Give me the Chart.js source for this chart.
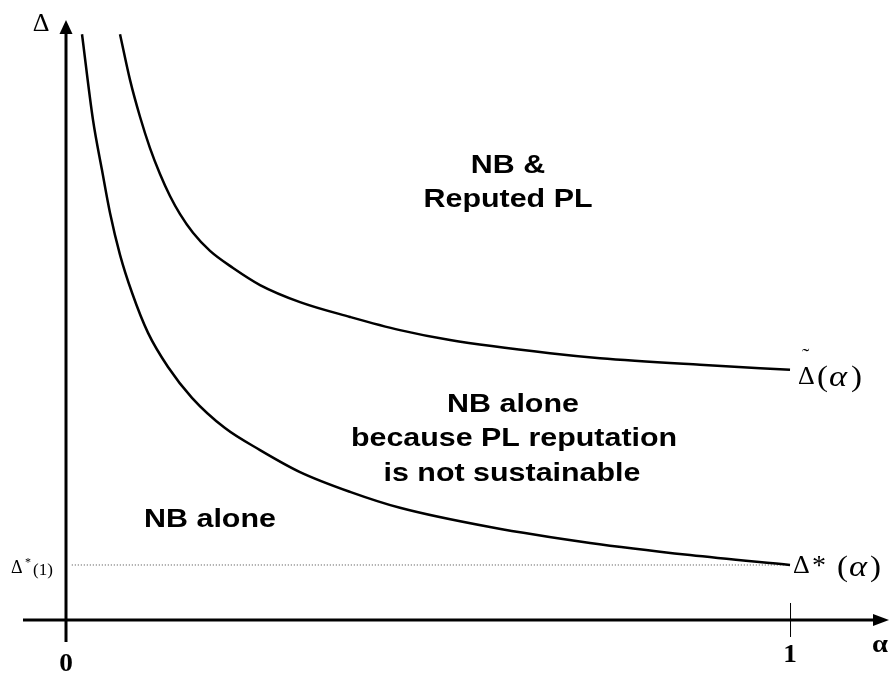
<!DOCTYPE html>
<html>
<head>
<meta charset="utf-8">
<script src="https://cdn.jsdelivr.net/npm/chart.js@4/dist/chart.umd.min.js"></script>
<style>
  html, body { margin: 0; padding: 0; background: #fff; }
  #chart { display: block; }
</style>
</head>
<body>
<canvas id="chart" width="894" height="675"></canvas>
<script>
// lower boundary  Δ*(α)
const alphaLow = [0.0221, 0.0373, 0.0497, 0.0608, 0.0746, 0.0912, 0.1133, 0.1409, 0.1740, 0.2196, 0.2680, 0.3232, 0.3923, 0.4613, 0.5856, 0.7238, 0.8619, 1.0];
const deltaLow = [10.65, 9.09, 8.18, 7.40, 6.64, 5.95, 5.22, 4.60, 4.04, 3.49, 3.09, 2.69, 2.33, 2.04, 1.69, 1.40, 1.18, 1.00];

// upper boundary  Δ~(α)
const alphaHigh = [0.0746, 0.0884, 0.1022, 0.1160, 0.1298, 0.1436, 0.1575, 0.1754, 0.1989, 0.2307, 0.2680, 0.3232, 0.3923, 0.4613, 0.5304, 0.6685, 0.7376, 0.8757, 1.0];
const deltaHigh = [10.65, 9.82, 9.15, 8.58, 8.11, 7.71, 7.38, 7.04, 6.71, 6.40, 6.09, 5.78, 5.51, 5.27, 5.09, 4.85, 4.76, 4.64, 4.55];

// dotted level Δ*(1)
const alphaRef = [0.008, 1.0];
const deltaRef = [1.0, 1.0];

const xTicks = [0, 1];
const xTickLabels = ['0', '1'];

const toPoints = (xs, ys) => xs.map((v, i) => ({ x: v, y: ys[i] }));

const SANS = '"Liberation Sans", Arial, sans-serif';
const SERIF = '"Liberation Serif", "Times New Roman", serif';

// text in the picture is a bit wider than tall, so stretch it
function put(ctx, text, x, y, font, align, sx) {
    ctx.save();
    ctx.font = font;
    ctx.textAlign = align || 'center';
    ctx.textBaseline = 'alphabetic';
    ctx.fillStyle = '#000';
    ctx.translate(x, y);
    ctx.scale(sx || 1.17, 1);
    ctx.fillText(text, 0, 0);
    ctx.restore();
}

const axesPlugin = {
    id: 'axes',
    afterDatasetsDraw(chart) {
        const { ctx, chartArea: a, scales: { x, y } } = chart;
        const x0 = x.getPixelForValue(0);
        const y0 = y.getPixelForValue(0);
        ctx.save();
        ctx.strokeStyle = '#000';
        ctx.fillStyle = '#000';
        ctx.lineWidth = 3;

        // horizontal axis with arrow
        ctx.beginPath();
        ctx.moveTo(a.left, y0);
        ctx.lineTo(a.right - 12, y0);
        ctx.stroke();
        ctx.beginPath();
        ctx.moveTo(a.right, y0);
        ctx.lineTo(a.right - 16, y0 - 6);
        ctx.lineTo(a.right - 16, y0 + 6);
        ctx.closePath();
        ctx.fill();

        // vertical axis with arrow
        ctx.beginPath();
        ctx.moveTo(x0, a.bottom);
        ctx.lineTo(x0, a.top + 10);
        ctx.stroke();
        ctx.beginPath();
        ctx.moveTo(x0, a.top);
        ctx.lineTo(x0 - 6.5, a.top + 14);
        ctx.lineTo(x0 + 6.5, a.top + 14);
        ctx.closePath();
        ctx.fill();

        // tick at alpha = 1
        const x1 = x.getPixelForValue(1);
        ctx.lineWidth = 1;
        ctx.beginPath();
        ctx.moveTo(x1 + 0.5, y0 - 17);
        ctx.lineTo(x1 + 0.5, y0 + 17);
        ctx.stroke();
        ctx.restore();

        // tick labels
        put(ctx, xTickLabels[0], x.getPixelForValue(xTicks[0]), 671, 'bold 26px ' + SERIF, 'center', 1.05);
        put(ctx, xTickLabels[1], x.getPixelForValue(xTicks[1]), 662, 'bold 26px ' + SERIF, 'center', 1.05);
        put(ctx, 'α', 880, 652, 'bold 26px ' + SERIF, 'center', 1.1);
        put(ctx, 'Δ', 41, 31, '26px ' + SERIF, 'center', 1.0);

        // level Δ*(1)
        const yr = y.getPixelForValue(1);
        put(ctx, 'Δ', 11, yr + 8, '18px ' + SERIF, 'left', 1.0);
        put(ctx, '*', 25, yr + 1, '12px ' + SERIF, 'left', 1.0);
        put(ctx, '(1)', 33, yr + 10, '17px ' + SERIF, 'left', 1.0);

        // curve labels
        put(ctx, 'Δ', 793, 573, '26px ' + SERIF, 'left', 1.0);
        put(ctx, '*', 812, 574, '28px ' + SERIF, 'left', 1.0);
        put(ctx, '(', 837, 576, '30px ' + SERIF, 'left', 1.1);
        put(ctx, 'α', 849, 576, 'italic 30px ' + SERIF, 'left', 1.15);
        put(ctx, ')', 870, 576, '30px ' + SERIF, 'left', 1.1);

        put(ctx, '˜', 802, 363, '22px ' + SERIF, 'left', 1.0);
        put(ctx, 'Δ', 798, 384, '26px ' + SERIF, 'left', 1.0);
        put(ctx, '(', 817, 386, '30px ' + SERIF, 'left', 1.1);
        put(ctx, 'α', 829, 386, 'italic 30px ' + SERIF, 'left', 1.15);
        put(ctx, ')', 851, 386, '30px ' + SERIF, 'left', 1.1);

        // region labels
        const f = 'bold 26px ' + SANS;
        put(ctx, 'NB &', 508, 173, f);
        put(ctx, 'Reputed PL', 508, 207, f);
        put(ctx, 'NB alone', 513, 412, f);
        put(ctx, 'because PL reputation', 514, 446, f);
        put(ctx, 'is not sustainable', 512, 481, f);
        put(ctx, 'NB alone', 210, 527, f);
    }
};

const curve = {
    showLine: true,
    pointRadius: 0,
    borderColor: '#000',
    borderWidth: 2.5,
    cubicInterpolationMode: 'monotone',
    fill: false,
};

new Chart(document.getElementById('chart'), {
    type: 'scatter',
    data: {
        datasets: [
            { ...curve, label: 'Δ*(α)', data: toPoints(alphaLow, deltaLow) },
            { ...curve, label: 'Δ~(α)', data: toPoints(alphaHigh, deltaHigh) },
            {
                label: 'Δ*(1)',
                data: toPoints(alphaRef, deltaRef),
                showLine: true,
                pointRadius: 0,
                borderColor: '#444',
                borderWidth: 1,
                borderDash: [1, 2],
            },
        ]
    },
    options: {
        responsive: false,
        animation: false,
        layout: { padding: { left: 23, right: 5, top: 20, bottom: 33 } },
        scales: {
            x: { type: 'linear', display: false, min: -0.0594, max: 1.1367 },
            y: { type: 'linear', display: false, min: -0.4, max: 10.909 },
        },
        plugins: {
            legend: { display: false },
            tooltip: { enabled: false },
        },
    },
    plugins: [axesPlugin],
});
</script>
</body>
</html>
